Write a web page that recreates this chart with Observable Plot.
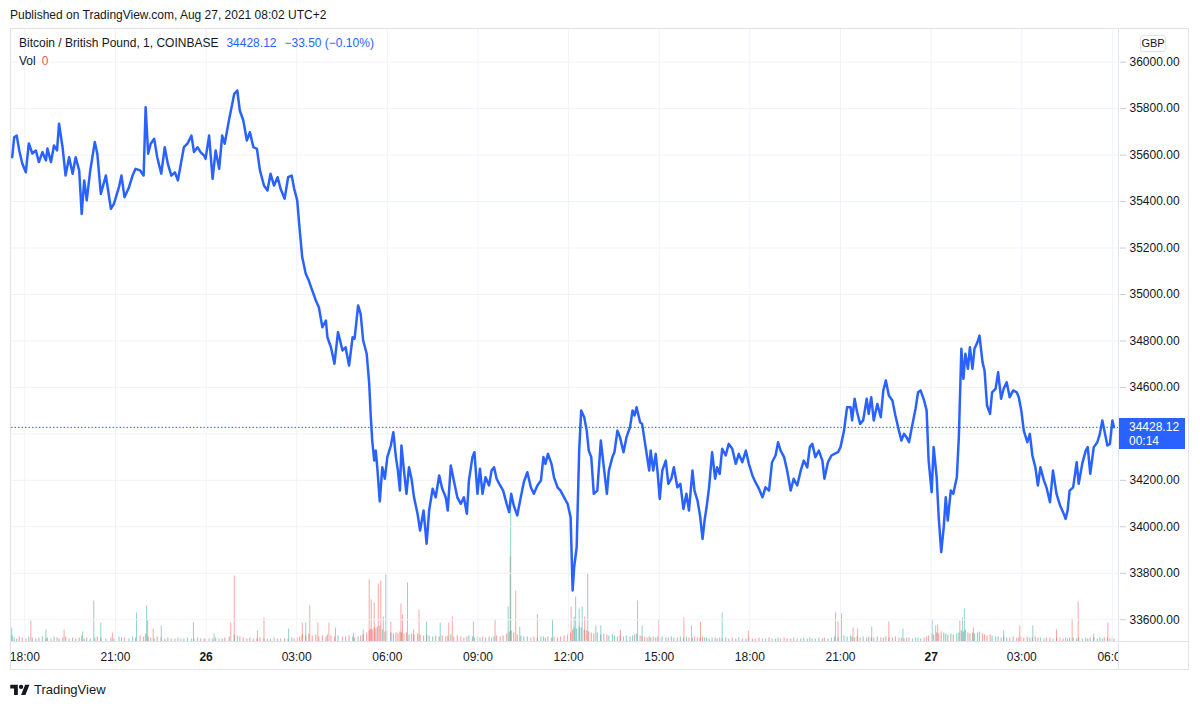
<!DOCTYPE html>
<html><head><meta charset="utf-8">
<script src="https://cdn.jsdelivr.net/npm/d3@7"></script>
<script src="https://cdn.jsdelivr.net/npm/@observablehq/plot@0.6"></script>
<style>
body{margin:0;background:#fff;font-family:"Liberation Sans",Arial,sans-serif;color:#131722;}
#wrap{position:relative;width:1200px;height:706px;overflow:hidden;background:#fff}
.abs{position:absolute;white-space:nowrap}
#wrap svg.plotsvg{position:absolute;left:0;top:0}
</style></head><body><div id="wrap">
<div class="abs" style="left:10px;top:8px;font-size:12px;line-height:14px;color:#131722">Published on TradingView.com, Aug 27, 2021 08:02 UTC+2</div>
<div id="plots"></div>
<div class="abs" style="left:1119px;top:642px;width:70px;height:28px;background:#fff"></div>
<div class="abs" style="left:10px;top:28px;width:1179px;height:642px;border:1px solid #e0e3eb;box-sizing:border-box"></div>
<div class="abs" style="left:1118px;top:28px;width:1px;height:642px;background:#e0e3eb"></div>
<div class="abs" style="left:10px;top:641px;width:1179px;height:1px;background:#e0e3eb"></div>
<div class="abs" style="left:19px;top:36px;font-size:12px;line-height:14px;color:#131722">Bitcoin / British Pound, 1, COINBASE<span id="lastVal" style="color:#2962ff;margin-left:8px"></span><span id="chg" style="color:#2962ff;margin-left:8px"></span></div>
<div class="abs" style="left:19px;top:54px;font-size:12px;line-height:14px;color:#131722">Vol<span id="volVal" style="color:#ef5350;margin-left:6px"></span></div>
<div class="abs" style="left:1140px;top:35px;width:26px;height:17px;border:1px solid #e0e3eb;border-radius:3px;box-sizing:border-box;font-size:11px;line-height:15px;text-align:center;color:#131722;background:#fff">GBP</div>
<div id="priceTag" class="abs" style="left:1119px;width:66px;height:31px;background:#2962ff;color:#fff;font-size:12px;line-height:14px;padding:2px 0 0 10px;box-sizing:border-box"></div>
<div class="abs" style="left:10px;top:682px;display:flex;align-items:center">
<svg width="20" height="13" viewBox="0 0 36 24"><path d="M14 22H7V10H0V3h14v19z" fill="#131722"/><circle cx="20" cy="7" r="4" fill="#131722"/><path d="M28 22h-8l7.5-19h8L28 22z" fill="#131722"/></svg>
<span style="font-size:13px;margin-left:4px;color:#131722">TradingView</span></div>
</div>
<script>
// ---- data ----
const times = ["25 17:35","25 17:39","25 17:44","25 17:49","25 17:55","25 18:02","25 18:08","25 18:15","25 18:22","25 18:28",
"25 18:35","25 18:42","25 18:45","25 18:52","25 18:58","25 19:04","25 19:08","25 19:15","25 19:21","25 19:28",
"25 19:35","25 19:41","25 19:48","25 19:53","25 19:58","25 20:03","25 20:10","25 20:19","25 20:24","25 20:31",
"25 20:41","25 20:51","25 20:57","25 21:07","25 21:12","25 21:18","25 21:27","25 21:34","25 21:40","25 21:49",
"25 21:56","25 22:00","25 22:05","25 22:10","25 22:17","25 22:23","25 22:31","25 22:38","25 22:44","25 22:51",
"25 22:58","25 23:04","25 23:10","25 23:16","25 23:23","25 23:31","25 23:36","25 23:43","25 23:49","25 23:56",
"25 23:59","26 00:06","26 00:13","26 00:19","26 00:26","26 00:32","26 00:37","26 00:46","26 00:56","26 01:02",
"26 01:07","26 01:14","26 01:21","26 01:27","26 01:34","26 01:41","26 01:47","26 01:55","26 02:02","26 02:08",
"26 02:15","26 02:22","26 02:28","26 02:36","26 02:43","26 02:50","26 02:55","26 03:01","26 03:06","26 03:11",
"26 03:18","26 03:24","26 03:31","26 03:38","26 03:44","26 03:51","26 03:58","26 04:01","26 04:08","26 04:15",
"26 04:22","26 04:31","26 04:37","26 04:44","26 04:51","26 04:55","26 05:02","26 05:07","26 05:12","26 05:19",
"26 05:24","26 05:27","26 05:30","26 05:34","26 05:37","26 05:40","26 05:45","26 05:50","26 05:55","26 06:00",
"26 06:07","26 06:12","26 06:17","26 06:21","26 06:25","26 06:28","26 06:33","26 06:38","26 06:43","26 06:48",
"26 06:53","26 07:00","26 07:05","26 07:12","26 07:18","26 07:23","26 07:30","26 07:36","26 07:43","26 07:49",
"26 07:56","26 08:00","26 08:06","26 08:12","26 08:19","26 08:26","26 08:32","26 08:38","26 08:42","26 08:49",
"26 08:53","26 08:59","26 09:04","26 09:09","26 09:15","26 09:22","26 09:27","26 09:32","26 09:37","26 09:44",
"26 09:50","26 09:57","26 10:02","26 10:06","26 10:11","26 10:18","26 10:25","26 10:31","26 10:38","26 10:45",
"26 10:51","26 10:58","26 11:05","26 11:10","26 11:14","26 11:19","26 11:26","26 11:31","26 11:38","26 11:44",
"26 11:51","26 11:58","26 12:04","26 12:08","26 12:11","26 12:16","26 12:21","26 12:25","26 12:31","26 12:36",
"26 12:40","26 12:45","26 12:50","26 12:57","26 13:04","26 13:10","26 13:16","26 13:20","26 13:27","26 13:31",
"26 13:37","26 13:42","26 13:49","26 13:55","26 14:02","26 14:07","26 14:11","26 14:15","26 14:22","26 14:26",
"26 14:31","26 14:36","26 14:40","26 14:43","26 14:48","26 14:53","26 14:57","26 15:01","26 15:06","26 15:13",
"26 15:18","26 15:24","26 15:29","26 15:36","26 15:42","26 15:48","26 15:54","26 15:59","26 16:06","26 16:10",
"26 16:16","26 16:21","26 16:26","26 16:30","26 16:34","26 16:39","26 16:45","26 16:51","26 16:55","26 17:00",
"26 17:05","26 17:12","26 17:18","26 17:25","26 17:32","26 17:38","26 17:45","26 17:52","26 17:58","26 18:05",
"26 18:11","26 18:18","26 18:25","26 18:31","26 18:38","26 18:44","26 18:51","26 18:56","26 19:01","26 19:08",
"26 19:14","26 19:21","26 19:27","26 19:34","26 19:41","26 19:47","26 19:54","26 19:59","26 20:04","26 20:10",
"26 20:17","26 20:24","26 20:28","26 20:35","26 20:42","26 20:48","26 20:55","26 21:00","26 21:07","26 21:13",
"26 21:20","26 21:23","26 21:28","26 21:33","26 21:39","26 21:45","26 21:52","26 21:56","26 22:01","26 22:06",
"26 22:13","26 22:20","26 22:25","26 22:30","26 22:36","26 22:43","26 22:49","26 22:56","26 23:01","26 23:06",
"26 23:11","26 23:16","26 23:23","26 23:29","26 23:34","26 23:39","26 23:46","26 23:51","26 23:55","27 00:01",
"27 00:05","27 00:11","27 00:15","27 00:20","27 00:25","27 00:29","27 00:33","27 00:39","27 00:44","27 00:51",
"27 00:55","27 01:00","27 01:04","27 01:08","27 01:13","27 01:17","27 01:22","27 01:26","27 01:32","27 01:36",
"27 01:42","27 01:46","27 01:51","27 01:57","27 02:01","27 02:08","27 02:13","27 02:19","27 02:24","27 02:30",
"27 02:36","27 02:43","27 02:50","27 02:54","27 02:59","27 03:04","27 03:11","27 03:16","27 03:21","27 03:27",
"27 03:32","27 03:37","27 03:44","27 03:49","27 03:56","27 04:02","27 04:09","27 04:16","27 04:22","27 04:27",
"27 04:31","27 04:35","27 04:42","27 04:49","27 04:53","27 05:00","27 05:07","27 05:11","27 05:16","27 05:23",
"27 05:30","27 05:35","27 05:40","27 05:44","27 05:50","27 05:55","27 06:00","27 06:03"];

const prices = [35591,35677,35684,35620,35564,35526,35650,35607,35620,35570,
35613,35577,35628,35570,35641,35620,35735,35634,35512,35591,
35520,35591,35534,35347,35491,35405,35534,35656,35606,35433,
35512,35369,35390,35462,35512,35419,35462,35512,35541,35534,
35512,35806,35606,35649,35670,35591,35520,35634,35563,35512,
35526,35491,35563,35634,35649,35684,35613,35634,35613,35598,
35584,35684,35498,35620,35541,35684,35649,35756,35864,35878,
35792,35749,35663,35699,35634,35627,35534,35469,35448,35520,
35469,35505,35455,35412,35505,35512,35455,35405,35277,35160,
35089,35060,35017,34974,34945,34859,34888,34816,34773,34702,
34838,34759,34773,34694,34816,34810,34953,34917,34802,34745,
34616,34479,34371,34285,34328,34256,34109,34256,34207,34300,
34350,34407,34300,34242,34156,34350,34242,34142,34256,34207,
34127,34056,33984,34070,33927,34070,34164,34127,34221,34164,
34127,34070,34264,34199,34127,34099,34127,34056,34199,34300,
34321,34142,34250,34142,34213,34178,34242,34256,34207,34178,
34156,34099,34063,34142,34092,34049,34127,34192,34235,34170,
34142,34178,34199,34300,34271,34314,34271,34213,34170,34156,
34127,34099,34041,33726,33826,33912,34328,34501,34472,34414,
34328,34300,34142,34156,34371,34256,34142,34242,34300,34321,
34414,34386,34321,34386,34429,34501,34479,34515,34450,34443,
34371,34300,34242,34328,34242,34314,34228,34120,34242,34285,
34185,34207,34256,34170,34185,34077,34142,34070,34242,34156,
34113,34049,33948,34027,34084,34170,34321,34207,34256,34228,
34336,34307,34357,34336,34271,34314,34278,34328,34271,34221,
34192,34164,34127,34170,34156,34278,34307,34364,34328,34300,
34242,34156,34207,34178,34242,34285,34256,34343,34357,34300,
34328,34285,34207,34278,34307,34314,34321,34343,34414,34515,
34515,34458,34551,34493,34443,34458,34551,34486,34558,34458,
34529,34472,34587,34630,34565,34544,34479,34414,34371,34400,
34386,34364,34443,34508,34579,34587,34544,34501,34285,34149,
34343,34213,34041,33891,33998,34127,34027,34156,34142,34213,
34386,34766,34637,34745,34680,34773,34680,34766,34795,34823,
34709,34673,34522,34486,34579,34594,34665,34551,34594,34622,
34558,34587,34579,34558,34501,34414,34364,34400,34307,34256,
34178,34256,34199,34170,34106,34242,34142,34092,34063,34034,
34070,34156,34170,34278,34185,34271,34328,34343,34228,34343,
34364,34400,34458,34414,34350,34357,34458,34428.12];

// small background volume (BTC) at the same times as the price readings
const baseVolumes = [0.6,0.4,0.3,0.5,0.4,0.3,0.5,0.4,0.3,0.4,0.5,0.3,0.4,0.3,0.5,0.4,0.3,0.4,0.5,0.3,0.4,0.3,0.4,0.6,0.3,0.4,0.3,0.4,0.5,0.4,0.3,0.4,0.3,0.5,0.4,
0.4,0.3,0.5,0.4,0.6,0.5,0.8,0.5,0.4,0.3,0.5,0.4,0.3,0.4,0.3,0.3,0.4,0.3,0.3,0.4,0.3,0.3,0.4,0.3,0.3,0.3,
0.3,0.3,0.4,0.3,0.3,0.4,0.5,0.7,0.6,0.5,0.4,0.3,0.4,0.3,0.3,0.4,0.3,0.3,0.3,0.4,0.3,0.3,0.3,0.3,0.4,0.3,0.4,
0.5,0.7,0.6,0.8,0.6,0.7,0.5,0.6,0.5,0.7,0.6,0.5,0.6,0.5,0.5,0.6,0.5,0.4,0.5,0.6,0.7,0.9,1.1,1.3,1.2,
1.4,1.3,1.5,1.6,1.2,1.0,1.1,0.9,0.8,0.9,0.8,1.0,0.9,0.8,0.9,0.7,0.8,0.7,0.8,
0.7,0.6,0.7,0.6,0.5,0.6,0.5,0.6,0.5,0.6,0.7,0.5,0.6,0.5,0.4,0.5,0.6,0.5,0.4,0.5,0.4,0.5,0.4,0.5,0.4,0.5,0.6,0.5,0.6,0.8,1.0,
1.1,0.9,0.7,0.6,0.5,0.5,0.4,0.5,0.4,0.5,0.5,0.4,0.5,0.4,0.5,0.4,0.5,0.6,0.7,0.9,
1.2,1.4,1.3,1.5,1.4,1.2,1.1,1.0,0.9,0.8,0.9,0.7,0.8,0.7,0.6,0.7,0.6,
0.5,0.6,0.5,0.6,0.5,0.6,0.7,0.8,0.6,0.5,0.5,0.4,0.5,0.4,0.5,0.4,0.5,0.4,0.5,0.4,0.4,0.5,0.4,0.4,0.5,0.4,0.5,0.4,0.4,0.5,
0.4,0.4,0.5,0.4,0.4,0.3,0.4,0.4,0.3,0.4,0.3,0.4,0.3,0.4,0.3,0.4,0.3,0.3,0.4,0.3,
0.3,0.4,0.3,0.3,0.4,0.3,0.3,0.4,0.3,0.4,0.3,0.3,0.4,0.3,0.3,0.4,0.3,0.4,0.3,0.3,0.4,0.3,0.4,0.3,0.4,0.5,0.4,0.5,
0.6,0.5,0.6,0.5,0.4,0.5,0.4,0.5,0.4,0.5,0.4,0.4,0.5,0.4,0.4,0.5,0.4,0.4,0.5,0.4,0.4,0.3,0.4,0.4,0.3,0.4,0.4,0.3,0.4,0.5,0.6,
0.8,0.7,0.9,0.8,1.0,0.9,0.8,0.7,0.8,0.7,0.8,0.9,1.1,1.0,1.2,0.9,0.8,0.9,0.8,0.9,1.0,0.8,0.7,0.6,0.7,0.6,
0.5,0.5,0.4,0.5,0.4,0.4,0.5,0.4,0.4,0.5,0.4,0.5,0.4,0.4,0.5,0.4,0.4,0.3,0.4,0.4,0.3,0.4,0.4,0.3,0.4,0.3,0.4,0.4,0.3,0.4,
0.3,0.4,0.3,0.4,0.4,0.3,0.4,0.3,0.4,0.4,0.3,0.4,0.3];

// notable volume bars: time, volume (BTC), 1 = up bar (teal), 0 = down bar (red)
const spikeTimes = ["25 17:34","25 18:12","25 18:42","25 19:18","25 19:55","25 20:17","25 20:31","25 20:54","25 21:42","25 22:02",
"25 22:04","25 22:15","25 22:31","25 23:35","26 00:16","26 00:49","26 00:56","26 01:42","26 01:55","26 02:44",
"26 03:11","26 03:18","26 03:26","26 03:42","26 04:04","26 04:17","26 04:53","26 05:12","26 05:24","26 05:28",
"26 05:34","26 05:42","26 05:47","26 05:52","26 05:57","26 06:07","26 06:27","26 06:30","26 06:40","26 06:52",
"26 07:03","26 07:18","26 07:45","26 08:02","26 08:09","26 08:51","26 09:34","26 10:00","26 10:04","26 10:05",
"26 10:15","26 10:23","26 10:58","26 11:28","26 12:05","26 12:11","26 12:14","26 12:21","26 12:27","26 12:32",
"26 12:38","26 12:54","26 13:04","26 13:43","26 14:17","26 14:26","26 14:59","26 15:49","26 16:04","26 16:22",
"26 17:05","26 17:57","26 20:50","26 20:55","26 21:02","26 21:25","26 21:34","26 22:02","26 22:36","26 23:04",
"27 00:02","27 00:09","27 00:13","27 00:57","27 01:02","27 01:06","27 01:24","27 02:24","27 02:56","27 03:22",
"27 04:09","27 04:40","27 04:52","27 05:23","27 05:51","27 06:00"];
const spikeVolumes = [1.4,2.1,1.2,1.2,1.0,4.1,1.9,0.9,2.9,3.6,
2.2,1.3,1.6,1.9,0.8,1.9,6.6,1.1,2.4,1.3,
1.9,1.9,3.6,1.9,1.9,1.4,0.9,1.2,6.2,4.2,
3.9,5.8,6.1,2.5,6.7,2.0,3.8,2.7,5.9,1.2,
3.2,2.0,1.9,1.9,2.5,2.0,2.2,3.5,8.5,14.3,
5.1,1.5,2.7,2.2,3.5,2.5,4.5,3.3,3.5,2.5,
6.8,1.6,1.6,1.2,4.1,1.6,2.2,2.4,1.6,2.0,
2.9,1.1,2.9,2.0,2.8,1.4,1.3,1.5,2.0,1.3,
2.2,1.6,1.7,2.1,2.4,3.3,1.4,1.1,1.6,1.6,
1.2,2.3,4.0,0.8,1.9,0.6];
const spikeUp = [1,0,1,0,1,1,1,0,1,1, 0,0,1,1,1,0,0,0,0,1, 0,1,0,0,0,0,1,1,0,0,
0,0,0,0,1,0,0,0,1,0, 0,1,1,0,0,0,0,1,0,1, 0,1,0,1,0,1,1,1,1,0,
1,1,1,0,1,1,0,0,1,0, 1,0,0,0,0,0,0,1,0,1, 1,1,0,0,1,1,1,1,0,1, 0,0,0,1,0,1];

const xTickTimes = ["25 18:00","25 21:00","26 00:00","26 03:00","26 06:00","26 09:00","26 12:00","26 15:00","26 18:00","26 21:00","27 00:00","27 03:00","27 06:00"];
const xTickLabels = ["18:00","21:00","26","03:00","06:00","09:00","12:00","15:00","18:00","21:00","27","03:00","06:00"];
const yTicks = [33600,33800,34000,34200,34400,34600,34800,35000,35200,35400,35600,35800,36000];
const lastPrice = 34428.12, lastChange = "\u221233.50 (\u22120.10%)", barCountdown = "00:14", lastVolume = 0;
const xDomain = ["2021-08-25T17:33:36Z","2021-08-27T06:14:04Z"];
const yDomain = [33502,36145];

// ---- build ----
const toDate = s => new Date(`2021-08-${s.slice(0,2)}T${s.slice(3)}:00Z`);
const n = Math.min(times.length, prices.length);
const series = d3.range(n).map(i => ({t: toDate(times[i]), p: prices[i]}));
const teal = "#26a69a", red = "#ef5350";
const base = d3.range(Math.min(n, baseVolumes.length)).map(i => ({t: series[i].t, v: baseVolumes[i], c: (i === 0 || prices[i] >= prices[i-1]) ? teal : red}));
const spikes = spikeTimes.map((s,i) => ({t: toDate(s), v: spikeVolumes[i], c: spikeUp[i] ? teal : red}));
const tickDates = xTickTimes.map(toDate);
const labelMap = new Map(tickDates.map((d,i) => [+d, xTickLabels[i]]));
const xd = xDomain.map(s => new Date(s));
const font = "Liberation Sans, Arial, sans-serif";

// price-axis labels hidden under the last-price tag (as in the reference)
const yScaleTmp = d3.scaleLinear().domain(yDomain).range([706 - 64, 28]);
const tagY = yScaleTmp(lastPrice);
const yLabelTicks = yTicks.filter(v => { const py = yScaleTmp(v); return py < tagY - 16 || py > tagY + 30; });

const volPlot = Plot.plot({
  width: 1200, height: 706, marginLeft: 11, marginRight: 81, marginTop: 28, marginBottom: 64.5,
  style: {background: "transparent"},
  x: {type: "utc", domain: xd, axis: null},
  y: {domain: [0, 61.35], axis: null},
  color: {type: "identity"},
  marks: [
    Plot.ruleX(base, {x: "t", y1: 0, y2: "v", stroke: "c", strokeOpacity: 0.5, strokeWidth: 1.2}),
    Plot.ruleX(spikes, {x: "t", y1: 0, y2: "v", stroke: "c", strokeOpacity: 0.5, strokeWidth: 1})
  ]
});

const main = Plot.plot({
  width: 1200, height: 706, marginLeft: 11, marginRight: 81, marginTop: 28, marginBottom: 64,
  style: {background: "transparent", fontFamily: font, fontSize: "12px", color: "#131722"},
  x: {type: "utc", domain: xd, label: null},
  y: {domain: yDomain, label: null},
  marks: [
    Plot.gridX(tickDates, {stroke: "#f0f3fa", strokeOpacity: 1}),
    Plot.gridY(yTicks, {stroke: "#f0f3fa", strokeOpacity: 1}),
    Plot.axisX(tickDates, {tickSize: 0, tickPadding: 10, label: null, tickFormat: d => labelMap.get(+d), fill: "#131722"}),
    Plot.axisY(yLabelTicks, {anchor: "right", tickSize: 6, tickPadding: 4, label: null, tickFormat: d => d.toFixed(2), stroke: "#c9ccd4", fill: "#131722"}),
    Plot.ruleY([lastPrice], {stroke: "#2962ff", strokeDasharray: "1.5,2", strokeWidth: 1}),
    Plot.line(series, {x: "t", y: "p", stroke: "#2962ff", strokeWidth: 2.5, strokeLinejoin: "round"})
  ]
});

for (const svg of [volPlot, main]) { svg.classList.add("plotsvg"); }
const holder = document.getElementById("plots");
holder.appendChild(volPlot);
holder.appendChild(main);
main.querySelectorAll("text").forEach(t => { if (t.textContent === "26" || t.textContent === "27") t.setAttribute("font-weight", "bold"); });

document.getElementById("lastVal").textContent = lastPrice.toFixed(2);
document.getElementById("chg").textContent = lastChange;
document.getElementById("volVal").textContent = String(lastVolume);
const yPix = main.scale("y").apply(lastPrice);
const tag = document.getElementById("priceTag");
tag.style.top = (yPix - 8.5) + "px";
tag.innerHTML = lastPrice.toFixed(2) + "<br>" + barCountdown;
</script>
</body></html>
